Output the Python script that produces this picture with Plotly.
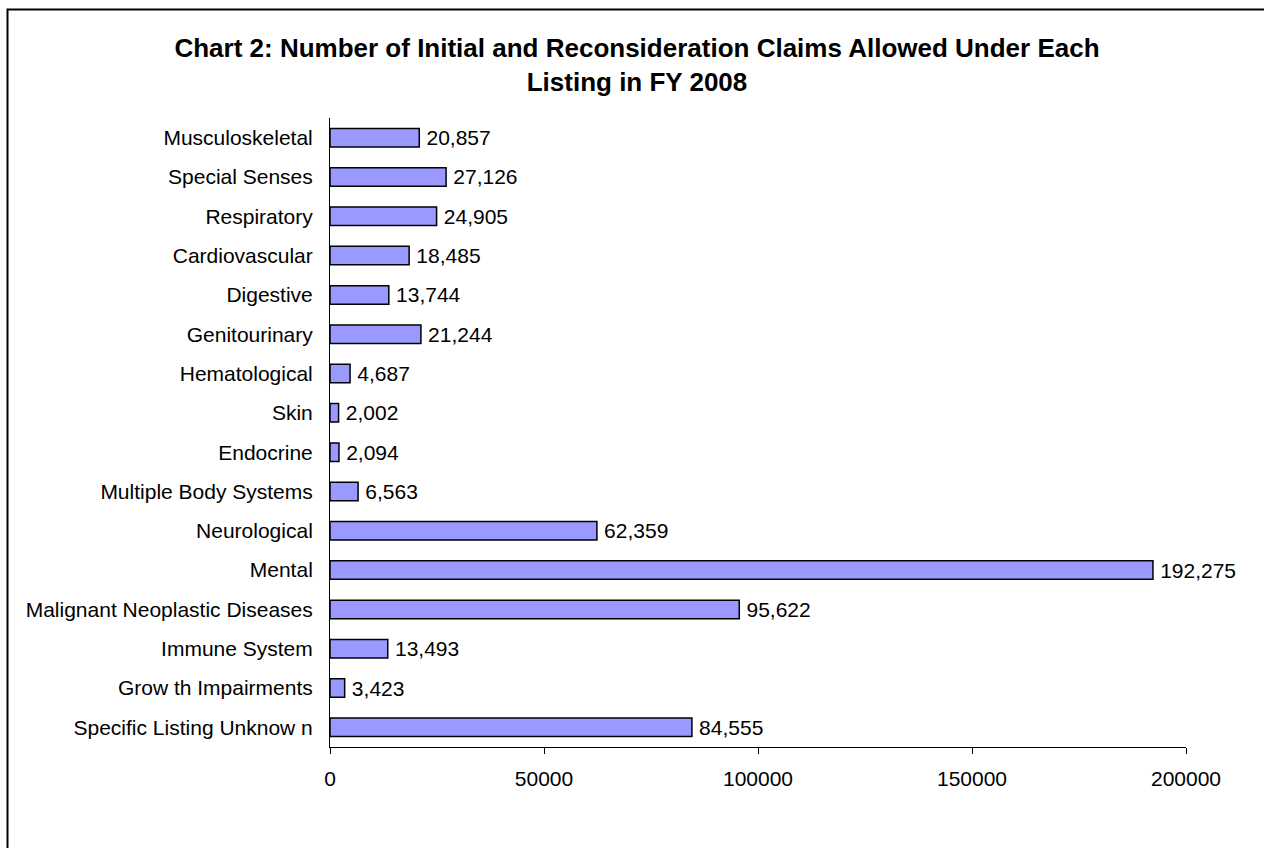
import plotly.graph_objects as go

categories = [
    "Musculoskeletal", "Special Senses", "Respiratory", "Cardiovascular",
    "Digestive", "Genitourinary", "Hematological", "Skin", "Endocrine",
    "Multiple Body Systems", "Neurological", "Mental",
    "Malignant Neoplastic Diseases", "Immune System",
    "Grow th Impairments", "Specific Listing Unknow n",
]
claims = [20857, 27126, 24905, 18485, 13744, 21244, 4687, 2002, 2094,
          6563, 62359, 192275, 95622, 13493, 3423, 84555]
x_ticks = [0, 50000, 100000, 150000, 200000]

W, H = 1264, 848
L, R, T, B = 330, 78, 118, 101
pw, ph = W - L - R, H - T - B

FONT = "Liberation Sans, Arial, sans-serif"

fig = go.Figure(go.Bar(
    x=claims, y=categories, orientation="h",
    marker=dict(color="#9999FF", line=dict(color="black", width=1.5)),
    texttemplate="\u2009%{x:,}", textposition="outside", cliponaxis=False,
    constraintext="none",
    textfont=dict(family=FONT, size=21, color="black"),
    width=0.47,
))

fig.update_layout(
    width=W, height=H,
    margin=dict(l=L, r=R, t=T, b=B),
    paper_bgcolor="white", plot_bgcolor="white",
    showlegend=False,
    font=dict(family=FONT, size=21, color="black"),
    title=dict(
        text="<b>Chart 2: Number of Initial and Reconsideration Claims Allowed Under Each<br>Listing in FY 2008</b>",
        x=637 / W, xanchor="center", y=1 - 57 / H, yanchor="top",
        font=dict(family=FONT, size=26, color="black"),
    ),
    xaxis=dict(
        range=[0, 200000], tickvals=x_ticks, tickformat="d",
        showline=True, linecolor="black", linewidth=1,
        ticks="outside", ticklen=6, tickcolor="black",
        showgrid=False, zeroline=False,
        tickfont=dict(family=FONT, size=21, color="black"),
        ticklabelstandoff=7,
    ),
    yaxis=dict(
        autorange="reversed",
        showline=True, linecolor="black", linewidth=1,
        ticks="", showgrid=False,
        tickfont=dict(family=FONT, size=21, color="black"),
        ticklabelstandoff=12,
    ),
    shapes=[dict(
        type="rect", xref="paper", yref="paper",
        x0=(7.5 - L) / pw, x1=(W + 20 - L) / pw,
        y0=-(B + 20) / ph, y1=1 + (T - 9.5) / ph,
        line=dict(color="black", width=2), fillcolor="rgba(0,0,0,0)",
        layer="below",
    )],
)

fig.write_html("out.html")
